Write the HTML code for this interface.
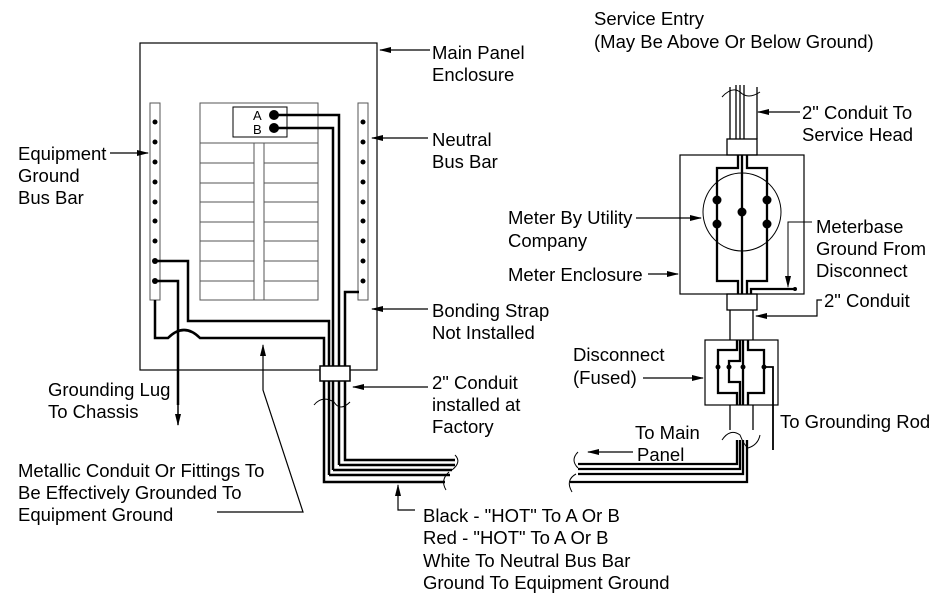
<!DOCTYPE html>
<html><head><meta charset="utf-8"><style>
html,body{margin:0;padding:0;background:#fff;}
svg{display:block;}
text{font-family:"Liberation Sans",Arial,sans-serif;font-size:18.5px;fill:#000;}
</style></head><body>
<svg width="944" height="604" viewBox="0 0 944 604" xmlns="http://www.w3.org/2000/svg">
<defs>
<marker id="ar" markerWidth="12" markerHeight="8" refX="11" refY="4" orient="auto" markerUnits="userSpaceOnUse">
<path d="M0,1 L12,4 L0,7 Z" fill="#000"/></marker>
</defs>
<g fill="none" stroke="#000">
<rect x="140" y="43" width="237" height="327" stroke-width="1.2"/>
<rect x="150" y="103" width="10" height="197" stroke="#555"/>
<rect x="358" y="103" width="10" height="197" stroke="#555"/>
<rect x="200" y="103" width="118" height="197" stroke="#555"/>
<rect x="233" y="107" width="54" height="30"/>
<path d="M200,143H318M200,163H318M200,183H318M200,202H318M200,222H318M200,241H318M200,261H318M200,281H318" stroke="#555"/>
<rect x="254" y="143" width="10" height="157" fill="#fff" stroke="#555"/>
<g stroke-width="2.5">
<path d="M274,115H339V465"/>
<path d="M274,128H333V470"/>
<path d="M359,292H345V460H455"/>
<path d="M155,261H188V321H329V475"/>
<path d="M155,300V338H168Q184,322 200,338H324V482H445"/>
<path d="M155,281H178V405"/>
</g>
<path d="M329,475H450M333,470H452M339,465H455" stroke-width="2.5"/>
<rect x="320" y="366" width="30" height="15" fill="#fff" stroke-width="1.5"/>
<path d="M324,381V400M345,381V400" />
<path d="M314,405Q322,395 334,402Q340,412 350,402"/>
<path d="M455,455Q462,462 452,470M449,472Q440,480 446,490"/>
</g>
<g fill="#000">
<circle cx="155" cy="122" r="2.5"/><circle cx="155" cy="142" r="2.5"/><circle cx="155" cy="162" r="2.5"/><circle cx="155" cy="182" r="2.5"/><circle cx="155" cy="202" r="2.5"/><circle cx="155" cy="221" r="2.5"/><circle cx="155" cy="241" r="2.5"/><circle cx="155" cy="261" r="3"/><circle cx="155" cy="281" r="3"/>
<circle cx="363" cy="122" r="2.5"/><circle cx="363" cy="142" r="2.5"/><circle cx="363" cy="162" r="2.5"/><circle cx="363" cy="182" r="2.5"/><circle cx="363" cy="202" r="2.5"/><circle cx="363" cy="221" r="2.5"/><circle cx="363" cy="241" r="2.5"/><circle cx="363" cy="261" r="2.5"/><circle cx="363" cy="281" r="2.5"/>
<circle cx="274" cy="115" r="5"/><circle cx="274" cy="128" r="5"/>
</g>
<text x="253" y="120" style="font-size:13px" fill="#333">A</text>
<text x="253" y="134" style="font-size:13px" fill="#333">B</text>
<path d="M178,395V425" stroke="#000" stroke-width="1.5" marker-end="url(#ar)"/>

<g fill="none" stroke="#000">
<path d="M730,87V139M757,87V139M736,85V139M740,85V139M744,85V139" stroke-width="1.3"/>
<path d="M722,97Q732,86 740,92Q748,100 760,92"/>
<rect x="727" y="139" width="30" height="16" stroke-width="1.3"/>
<rect x="680" y="155" width="124" height="139" stroke-width="1.2"/>
<circle cx="742" cy="212" r="39" stroke-width="1"/>
<g stroke-width="2.3">
<path d="M738,155V168H717V281H738V294"/>
<path d="M747,155V168H767V281H747V294"/>
<path d="M742,155V294"/>
<path d="M751,294V289H795"/>
</g>
<path d="M812,222H788V287" marker-end="url(#ar)"/>
<rect x="727" y="294" width="30" height="16" stroke-width="1.3"/>
<path d="M730,310V340M753,310V340" stroke-width="1.3"/>
<rect x="705" y="340" width="73" height="65" stroke-width="1.2"/>
<g stroke-width="2.3">
<path d="M737,340V350H718V393H737V405"/>
<path d="M740,340V361H729V382H740V405"/>
<path d="M743,340V405"/>
<path d="M748,340V350H764V393H748V405"/>
<path d="M764,367H773V450" stroke-width="1.8"/>
</g>
<path d="M730,405V430M753,405V430" stroke-width="1.3"/>
<path d="M722,440Q730,428 740,435Q744,445 748,448Q758,445 760,435"/>
<g stroke-width="2.3">
<path d="M737,440V464H578"/>
<path d="M740,440V469H578"/>
<path d="M743,440V474H578"/>
<path d="M747,440V482H570"/>
</g>
<path d="M578,452Q570,460 578,468M576,474Q565,480 572,492"/>
</g>
<g fill="#000">
<circle cx="717" cy="200" r="4.5"/><circle cx="767" cy="200" r="4.5"/><circle cx="742" cy="212" r="4.5"/><circle cx="717" cy="224" r="4.5"/><circle cx="767" cy="224" r="4.5"/>
<circle cx="795" cy="289" r="2"/>
<circle cx="718" cy="367" r="2.5"/><circle cx="729" cy="367" r="2.5"/><circle cx="743" cy="367" r="2.5"/><circle cx="764" cy="367" r="2.5"/>
</g>

<g stroke="#000" stroke-width="1.2" fill="none">
<path d="M430,50H380" marker-end="url(#ar)"/>
<path d="M428,138H372" marker-end="url(#ar)"/>
<path d="M428,309H372" marker-end="url(#ar)"/>
<path d="M428,387H353" marker-end="url(#ar)"/>
<path d="M110,153H148" marker-end="url(#ar)"/>
<path d="M217,512H303L263,390V345" marker-end="url(#ar)"/>
<path d="M415,510H398V485" marker-end="url(#ar)"/>
<path d="M800,112H758" marker-end="url(#ar)"/>
<path d="M636,218H701" marker-end="url(#ar)"/>
<path d="M648,274H678" marker-end="url(#ar)"/>
<path d="M822,300H817V316H756" marker-end="url(#ar)"/>
<path d="M643,378H703" marker-end="url(#ar)"/>
<path d="M633,452H588" marker-end="url(#ar)"/>
</g>

<text x="594" y="25">Service Entry</text>
<text x="594" y="48">(May Be Above Or Below Ground)</text>
<text x="432" y="59">Main Panel</text>
<text x="432" y="81">Enclosure</text>
<text x="432" y="146">Neutral</text>
<text x="432" y="168">Bus Bar</text>
<text x="432" y="317">Bonding Strap</text>
<text x="432" y="339">Not Installed</text>
<text x="432" y="389">2" Conduit</text>
<text x="432" y="411">installed at</text>
<text x="432" y="433">Factory</text>
<text x="18" y="160">Equipment</text>
<text x="18" y="182">Ground</text>
<text x="18" y="204">Bus Bar</text>
<text x="48" y="396">Grounding Lug</text>
<text x="48" y="418">To Chassis</text>
<text x="18" y="477">Metallic Conduit Or Fittings To</text>
<text x="18" y="499">Be Effectively Grounded To</text>
<text x="18" y="521">Equipment Ground</text>
<text x="423" y="522">Black - "HOT" To A Or B</text>
<text x="423" y="544">Red - "HOT" To A Or B</text>
<text x="423" y="567">White To Neutral Bus Bar</text>
<text x="423" y="589">Ground To Equipment Ground</text>
<text x="802" y="119">2" Conduit To</text>
<text x="802" y="141">Service Head</text>
<text x="508" y="224">Meter By Utility</text>
<text x="508" y="247">Company</text>
<text x="508" y="281">Meter Enclosure</text>
<text x="816" y="233">Meterbase</text>
<text x="816" y="255">Ground From</text>
<text x="816" y="277">Disconnect</text>
<text x="824" y="307">2" Conduit</text>
<text x="573" y="361">Disconnect</text>
<text x="573" y="384">(Fused)</text>
<text x="780" y="428">To Grounding Rod</text>
<text x="635" y="439">To Main</text>
<text x="637" y="461">Panel</text>
</svg>
</body></html>
